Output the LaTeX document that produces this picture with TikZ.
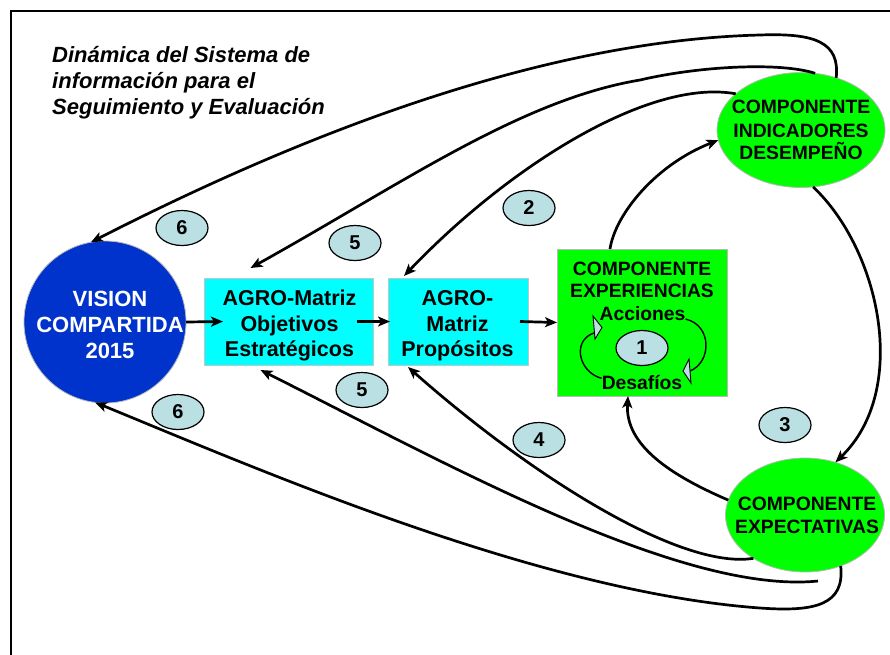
\documentclass[tikz,border=0pt]{standalone}
\usepackage{fontspec}
\setmainfont{Liberation Sans}
\usetikzlibrary{arrows.meta,shapes.geometric}
\definecolor{vblue}{HTML}{0033CC}
\definecolor{cyanbox}{HTML}{00FFFF}
\definecolor{gfill}{HTML}{00FF00}
\definecolor{numfill}{HTML}{BBE0E3}
\begin{document}
\begin{tikzpicture}[x=1pt,y=-1pt,
  conn/.style={line width=2.7pt,-{Stealth[length=12pt,width=10pt,inset=3pt]}},
  thinarc/.style={line width=1.4pt},
  hollowhead/.style={draw=black,line width=0.9pt,fill=numfill,line join=miter},
  numell/.style={ellipse,draw=black,line width=1.2pt,fill=numfill,minimum width=52pt,minimum height=35pt,inner sep=0pt,font=\bfseries\fontsize{20}{20}\selectfont},
  cbox/.style={rectangle,draw=gray!45,line width=0.8pt,fill=cyanbox,inner sep=0pt,outer sep=0pt},
  gshape/.style={draw=gray!55,line width=0.8pt,fill=gfill,inner sep=0pt,outer sep=0pt},
  txt/.style={anchor=base,inner sep=0pt,font=\bfseries\fontsize{21.5}{25}\selectfont},
  gtxt/.style={anchor=base,inner sep=0pt,font=\bfseries\fontsize{19.3}{22}\selectfont},
  vtxt/.style={anchor=base,inner sep=0pt,text=white,font=\bfseries\fontsize{22}{26}\selectfont},
  ttl/.style={anchor=base west,inner sep=0pt,font=\bfseries\itshape\fontsize{22}{26}\selectfont}
]
\useasboundingbox (0,0) rectangle (890,654);
\draw[line width=1.8pt,line join=miter] (11,660) -- (11,11) -- (895,11);

% title
\node[ttl] (t1) at (52,62) {Dinámica del Sistema de};
\node[ttl] (t2) at (52,88) {información para el};
\node[ttl] (t3) at (52,114) {Seguimiento y Evaluación};

% main shapes
\node[circle,gshape,fill=vblue,minimum size=162pt] (vision) at (105,322) {};
\node[cbox,minimum width=169pt,minimum height=87pt] (obj) at (288.5,321.5) {};
\node[cbox,minimum width=140pt,minimum height=87pt] (prop) at (458,321.5) {};
\node[rectangle,gshape,minimum width=170pt,minimum height=147pt] (expbox) at (642,322.5) {};
\node[ellipse,gshape,minimum width=168pt,minimum height=115pt] (ind) at (801,130) {};
\node[ellipse,gshape,minimum width=159pt,minimum height=114pt] (exp) at (805,515) {};

% texts
\node[vtxt] (v1) at (110,306.7) {VISION};
\node[vtxt] (v2) at (110,332) {COMPARTIDA};
\node[vtxt] (v3) at (110,358) {2015};

\node[txt] (o1) at (289.5,305.5) {AGRO-Matriz};
\node[txt] (o2) at (289.5,331) {Objetivos};
\node[txt] (o3) at (289.5,356.5) {Estratégicos};

\node[txt] (p1) at (457.5,305.5) {AGRO-};
\node[txt] (p2) at (457.5,331) {Matriz};
\node[txt] (p3) at (457.5,356.5) {Propósitos};

\node[gtxt] (e1) at (642,275) {COMPONENTE};
\node[gtxt] (e2) at (642,297.3) {EXPERIENCIAS};
\node[gtxt] (acc) at (642.5,320) {Acciones};
\node[gtxt] (desaf) at (642,389.3) {Desafíos};

\node[gtxt] (i1) at (801,113.3) {COMPONENTE};
\node[gtxt] (i2) at (801,137.3) {INDICADORES};
\node[gtxt] (i3) at (801,159.5) {DESEMPEÑO};

\node[gtxt] (x1) at (807,510.7) {COMPONENTE};
\node[gtxt] (x2) at (807,533.3) {EXPECTATIVAS};

% straight arrows
\draw[conn] (vision.east) -- ([xshift=19pt]obj.west);
\draw[conn] ([xshift=-16pt]obj.east) -- ([xshift=2pt]prop.west);
\draw[conn] ([xshift=-8pt]prop.east) -- (expbox.west);

% experiencias -> indicadores
\draw[conn] ([xshift=-32pt]expbox.north) .. controls (615,215) and (655,165) .. (ind.187);
% indicadores -> expectativas
\draw[conn] (ind.282) .. controls (880,250) and (910,390) .. (exp.60);
% expectativas -> experiencias
\draw[conn] (exp.169) .. controls (670,475) and (625,445) .. ([xshift=-14pt]expbox.south);

% from indicadores
\draw[conn] (ind.56) .. controls (840,42) and (815,33) .. (760,35)
  .. controls (560,40) and (330,120) .. (vision.100);
\draw[conn] (ind.76) .. controls (780,62) and (700,66) .. (640,80)
  .. controls (520,100) and (400,185) .. ([xshift=-38pt,yshift=10pt]obj.north);
\draw[conn] (ind.151) .. controls (650,78) and (510,165) .. ([xshift=-54pt,yshift=2pt]prop.north);

% from expectativas
\coordinate (gstart) at (818,581);
\draw[conn] (exp.220) .. controls (680,570) and (530,475) .. ([xshift=-50pt,yshift=-2pt]prop.south);
\draw[conn] (gstart) .. controls (680,595) and (440,460) .. ([xshift=-28pt,yshift=-5pt]obj.south);
\draw[conn] (exp.305) .. controls (845,605) and (815,612) .. (760,608)
  .. controls (540,592) and (260,470) .. (vision.263);

% inner cycle
\draw[thinarc] ([yshift=4pt]desaf.west) .. controls (578,372) and (572,340) .. (594,333);
\draw[thinarc] ([yshift=-6pt]acc.east) .. controls (712,325) and (712,362) .. (690,371);
\draw[hollowhead] (593,316) -- (602,327.5) -- (595,339) -- cycle;
\draw[hollowhead] (689,359) -- (683,371) -- (691,383) -- cycle;

% numbers
\node[numell] (n6a) at (182,228) {6};
\node[numell] (n5a) at (355,243) {5};
\node[numell] (n2) at (529,208) {2};
\node[numell] (n1) at (642,348) {1};
\node[numell] (n3) at (785,425) {3};
\node[numell] (n4) at (539,440) {4};
\node[numell] (n5b) at (362,390) {5};
\node[numell] (n6b) at (178,412) {6};
\end{tikzpicture}
\end{document}
